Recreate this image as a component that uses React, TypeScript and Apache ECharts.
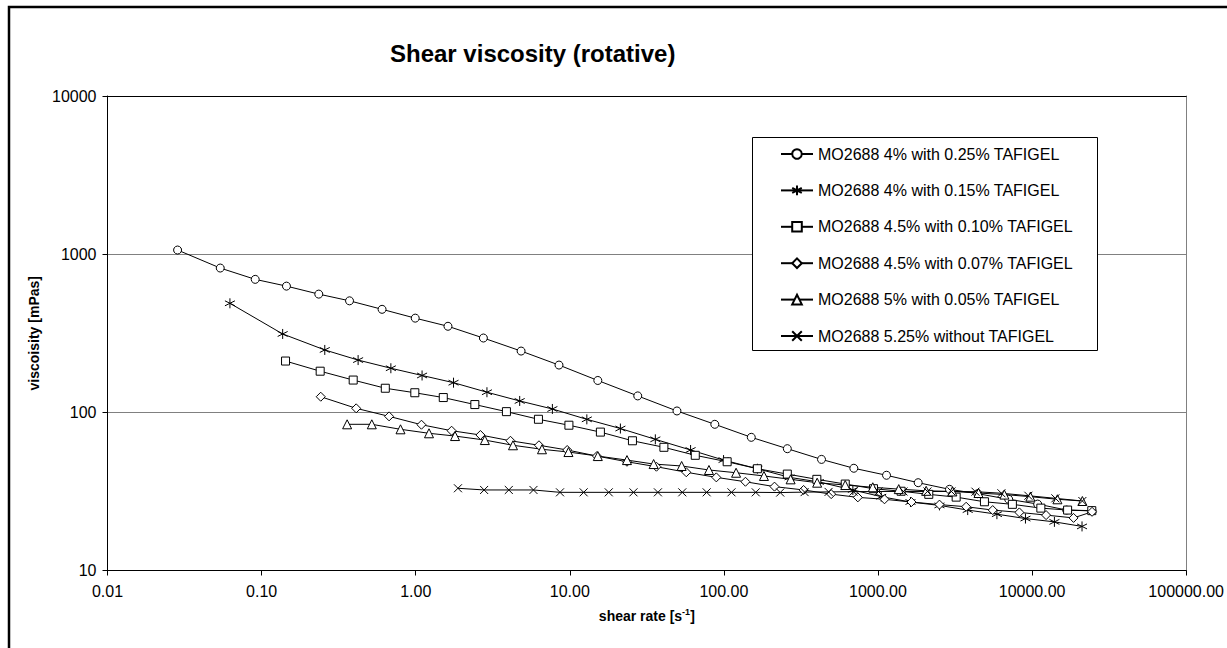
import React, { useEffect, useRef } from 'react';
import * as echarts from 'echarts';

const FONT = 'Liberation Sans, Arial, sans-serif';

const seriesNames = [
  'MO2688 4% with 0.25% TAFIGEL',
  'MO2688 4% with 0.15% TAFIGEL',
  'MO2688 4.5% with 0.10% TAFIGEL',
  'MO2688 4.5% with 0.07% TAFIGEL',
  'MO2688 5% with 0.05% TAFIGEL',
  'MO2688 5.25% without TAFIGEL',
];

const xTickValues = [0.01, 0.1, 1, 10, 100, 1000, 10000, 100000];
const yTickValues = [10, 100, 1000, 10000];

const circleX = [0.0285, 0.0539, 0.0909, 0.145, 0.235, 0.372, 0.605, 0.993, 1.62, 2.75, 4.83, 8.51, 15.2, 27.6, 49.6, 87.3, 150.6, 258, 430, 697, 1136, 1823, 2910, 4440, 7050, 10870, 16760, 24500];
const circleY = [1062, 817, 693, 628, 559, 507, 448, 394, 350, 295, 244, 199, 159, 127, 102, 84, 69.5, 58.9, 50.4, 44.3, 40.0, 35.9, 32.6, 30.6, 28.2, 26.3, 24.1, 23.8];

const starX = [0.0623, 0.137, 0.257, 0.423, 0.69, 1.10, 1.76, 2.90, 4.73, 7.71, 12.9, 21.3, 35.9, 60.8, 99.5, 165, 267, 413, 687, 1049, 1625, 2506, 3822, 5912, 9057, 13960, 21090];
const starY = [489, 313, 248, 214, 190, 171, 154, 134, 118, 105, 90.3, 79.0, 67.5, 57.8, 49.9, 44.0, 38.8, 36.3, 32.3, 29.3, 27.1, 25.8, 24.1, 22.7, 21.3, 20.3, 19.0];

const squareX = [0.143, 0.240, 0.393, 0.635, 0.987, 1.51, 2.42, 3.88, 6.26, 9.87, 15.8, 25.5, 40.8, 65.2, 105, 165, 258, 401, 613, 935, 1413, 2136, 3216, 4907, 7450, 11400, 17000, 24400];
const squareY = [211, 182, 160, 142, 133, 124, 112, 101, 90.4, 82.9, 75.0, 66.1, 60.1, 53.5, 48.7, 44.0, 40.7, 37.7, 35.2, 32.9, 31.7, 30.3, 29.1, 27.2, 26.2, 24.8, 24.1, 23.9];

const diamondX = [0.242, 0.411, 0.672, 1.09, 1.71, 2.63, 4.12, 6.31, 9.62, 15.0, 23.5, 36.5, 57.0, 89.3, 138, 213, 329, 497, 740, 1102, 1649, 2506, 3733, 5553, 8270, 12330, 18580, 24500];
const diamondY = [125.5, 106, 94.3, 83.5, 76.5, 71.9, 66.1, 61.9, 57.8, 52.9, 48.7, 45.3, 41.8, 38.8, 36.4, 33.9, 32.3, 30.4, 29.0, 28.2, 27.1, 26.1, 25.3, 24.1, 23.3, 22.4, 21.5, 23.5];

const triangleX = [0.359, 0.519, 0.797, 1.22, 1.80, 2.81, 4.28, 6.60, 9.80, 15.2, 23.5, 35.0, 53.2, 80.0, 120, 182, 271, 403, 613, 925, 1364, 2054, 3040, 4490, 6610, 9750, 14600, 21200];
const triangleY = [84.0, 84.0, 78.1, 73.7, 70.8, 66.8, 61.9, 58.4, 56.1, 52.9, 49.9, 47.1, 45.8, 43.2, 41.5, 39.6, 37.7, 35.9, 34.7, 33.6, 32.7, 31.9, 31.6, 30.9, 30.2, 29.3, 28.2, 27.5];

const crossX = [1.88, 2.78, 4.02, 5.81, 8.64, 12.3, 17.9, 25.9, 37.3, 53.7, 77.3, 112, 161, 232, 334, 478, 693, 1007, 1464, 2094, 2997, 4290, 6320, 9460, 14160, 21200];
const crossY = [33.1, 32.3, 32.3, 32.3, 31.2, 31.2, 31.2, 31.2, 31.2, 31.2, 31.2, 31.2, 31.2, 31.1, 31.3, 31.4, 31.5, 31.6, 31.6, 31.6, 31.6, 31.5, 30.8, 29.7, 28.6, 27.5];

const STAR_PATH = 'path://M5,0L5,10M0.7,2.5L9.3,7.5M0.7,7.5L9.3,2.5';
const CROSS_PATH = 'path://M0,0L10,10M10,0L0,10';

const zip = (xs: number[], ys: number[]) => xs.map((x, i) => [x, ys[i]]);

export default function App() {
  const ref = useRef<HTMLDivElement>(null);

  useEffect(() => {
    if (!ref.current) return;
    const chart = echarts.init(ref.current, null, { renderer: 'svg' });

    const defs = [
      { x: circleX, y: circleY, symbol: 'circle', size: 8 },
      { x: starX, y: starY, symbol: STAR_PATH, size: 10 },
      { x: squareX, y: squareY, symbol: 'rect', size: 8 },
      { x: diamondX, y: diamondY, symbol: 'diamond', size: 9 },
      { x: triangleX, y: triangleY, symbol: 'triangle', size: 9 },
      { x: crossX, y: crossY, symbol: CROSS_PATH, size: 8 },
    ];

    const series = defs.map((d, i) => ({
      name: seriesNames[i],
      type: 'line',
      data: zip(d.x, d.y),
      symbol: d.symbol,
      symbolSize: d.size,
      showSymbol: true,
      showAllSymbol: true,
      lineStyle: { color: '#000', width: 1 },
      itemStyle: { color: '#fff', borderColor: '#000', borderWidth: 1 },
      emphasis: { disabled: true },
      silent: true,
      z: 3,
    }));

    const nearest = (list: number[], v: number) =>
      list.reduce((a, b) => (Math.abs(Math.log10(b) - Math.log10(v)) < Math.abs(Math.log10(a) - Math.log10(v)) ? b : a));
    const fmtX = (v: number) => nearest(xTickValues, v).toFixed(2);
    const fmtY = (v: number) => String(nearest(yTickValues, v));

    chart.setOption({
      animation: false,
      backgroundColor: '#fff',
      title: {
        text: 'Shear viscosity (rotative)',
        left: 390,
        top: 41,
        padding: 0,
        textStyle: { fontSize: 24, fontWeight: 'bold', color: '#000', fontFamily: FONT },
      },
      legend: {
        orient: 'vertical',
        left: 780,
        top: 144,
        padding: 0,
        itemWidth: 32,
        itemHeight: 12,
        itemGap: 16.4,
        selectedMode: false,
        textStyle: { fontSize: 16, color: '#000', fontFamily: FONT, lineHeight: 20 },
        data: seriesNames,
        z: 12,
      },
      grid: { left: 107.5, top: 96, width: 1079.5, height: 474.5, containLabel: false },
      xAxis: [
        {
          type: 'log',
          logBase: 10,
          min: 0.01,
          max: 100000,
          position: 'bottom',
          axisLine: { show: true, onZero: false, lineStyle: { color: '#000', width: 1 } },
          axisTick: { show: true, inside: false, length: 5, lineStyle: { color: '#000' } },
          axisLabel: { formatter: fmtX, fontSize: 16, color: '#000', fontFamily: FONT, margin: 13, showMinLabel: true, showMaxLabel: true },
          splitLine: { show: false },
          name: '{n|shear rate [s}{s|-1}{n|]}',
          nameLocation: 'middle',
          nameGap: 37,
          nameTextStyle: {
            rich: {
              n: { fontSize: 14, fontWeight: 'bold', color: '#000', fontFamily: FONT, lineHeight: 16 },
              s: { fontSize: 9, fontWeight: 'bold', color: '#000', fontFamily: FONT, verticalAlign: 'top', lineHeight: 10 },
            },
          },
        },
        {
          type: 'value',
          position: 'top',
          min: 0,
          max: 1,
          axisLine: { show: true, onZero: false, lineStyle: { color: '#000', width: 1 } },
          axisTick: { show: false },
          axisLabel: { show: false },
          splitLine: { show: false },
        },
      ],
      yAxis: [
        {
          type: 'log',
          logBase: 10,
          min: 10,
          max: 10000,
          axisLine: { show: true, onZero: false, lineStyle: { color: '#000', width: 1 } },
          axisTick: { show: true, inside: false, length: 5, lineStyle: { color: '#000' } },
          axisLabel: { formatter: fmtY, fontSize: 16, color: '#000', fontFamily: FONT, margin: 11, showMinLabel: true, showMaxLabel: true },
          splitLine: { show: true, lineStyle: { color: '#808080', width: 1 } },
          name: 'viscoisity [mPas]',
          nameLocation: 'middle',
          nameRotate: 90,
          nameGap: 65,
          nameTextStyle: { fontSize: 14, fontWeight: 'bold', color: '#000', fontFamily: FONT },
        },
        {
          type: 'value',
          position: 'right',
          min: 0,
          max: 1,
          axisLine: { show: true, onZero: false, lineStyle: { color: '#808080', width: 1 } },
          axisTick: { show: false },
          axisLabel: { show: false },
          splitLine: { show: false },
        },
      ],
      graphic: [
        {
          type: 'rect',
          shape: { x: 9, y: 7, width: 3000, height: 3000 },
          style: { fill: 'none', stroke: '#000', lineWidth: 2.5 },
          z: 20,
          silent: true,
        },
        {
          type: 'rect',
          shape: { x: 752.5, y: 137.5, width: 345, height: 213 },
          style: { fill: '#fff', stroke: '#000', lineWidth: 1 },
          z: 10,
          silent: true,
        },
      ],
      series,
    });

    return () => chart.dispose();
  }, []);

  return (
    <div
      ref={ref}
      style={{ position: 'absolute', left: 0, top: 0, width: 1227, height: 648, background: '#fff' }}
    />
  );
}
